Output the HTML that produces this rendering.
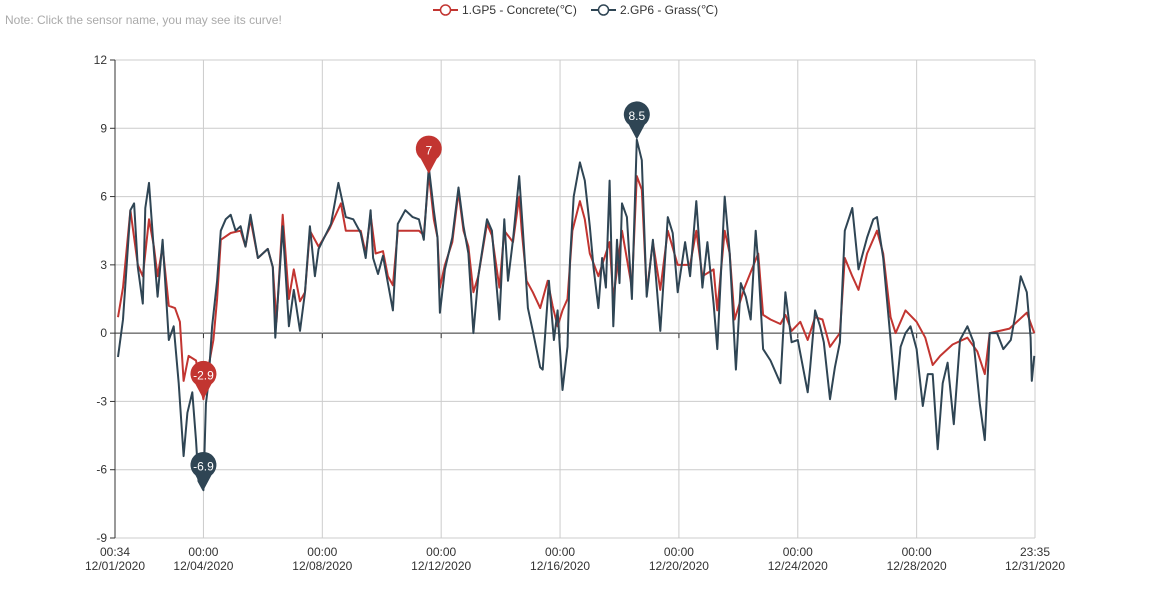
<!DOCTYPE html>
<html><head><meta charset="utf-8"><style>
body{margin:0;background:#fff;font-family:"Liberation Sans",sans-serif}
svg{display:block}
</style></head><body>
<svg id="chart" width="1150" height="600" xmlns="http://www.w3.org/2000/svg" font-family="Liberation Sans, sans-serif">
<text x="5" y="24" font-size="12" fill="#aaa">Note: Click the sensor name, you may see its curve!</text>
<g>
<g><line x1="433" y1="10" x2="458" y2="10" stroke="#c23531" stroke-width="2"/><circle cx="445.5" cy="10" r="5" fill="#fff" stroke="#c23531" stroke-width="1.5"/><text x="462" y="14" font-size="12" fill="#333">1.GP5 - Concrete(℃)</text></g>
<g><line x1="591" y1="10" x2="616" y2="10" stroke="#2f4554" stroke-width="2"/><circle cx="603.5" cy="10" r="5" fill="#fff" stroke="#2f4554" stroke-width="1.5"/><text x="620" y="14" font-size="12" fill="#333">2.GP6 - Grass(℃)</text></g>
</g>
<g id="grid"></g><g id="series"></g><g id="marks"></g>
</svg>
<script>
const yTicks=[12,9,6,3,0,-3,-6,-9];
const xTickHours=[72,168,264,360,456,552,648];
const xTickLabels=["12/04/2020","12/08/2020","12/12/2020","12/16/2020","12/20/2020","12/24/2020","12/28/2020"];
const tMin=0.567, tMax=743.583;
const concreteHours=[3,7,13,19,23,28,32,35,39,44,49,53,56,60,66,72,76,80,83,86,94,102,106,110,116,124,128,131,136,141,145,150,154,158,165,174,183,187,199,203,207,211,217,221,225,229,235,246,250,254,258,261,263,267,273,278,282,286,290,294,301,305,311,315,322,327,329,333,338,344,350,354,358,362,366,370,376,380,384,391,394,400,403,410,418,422,426,430,435,441,447,455,465,470,475,484,487,493,497,501,509,520,524,530,538,542,547,554,560,566,572,578,586,590,596,601,608,616,621,627,631,639,648,655,661,667,677,689,697,703,707,723,731,737,743];
const concreteValues=[0.7,2.0,5.4,3.0,2.5,5.0,3.8,2.5,3.8,1.2,1.1,0.5,-2.1,-1.0,-1.2,-2.9,-1.5,-0.3,1.5,4.1,4.4,4.5,3.8,5.0,3.3,3.7,2.9,0.5,5.2,1.5,2.8,1.4,1.8,4.5,3.8,4.6,5.7,4.5,4.5,3.5,5.2,3.5,3.6,2.5,2.1,4.5,4.5,4.5,4.3,7.0,5.0,4.2,2.0,3.0,4.0,6.2,4.5,3.8,1.8,2.5,4.8,4.3,2.0,4.5,4.0,6.0,4.5,2.3,1.8,1.1,2.3,1.2,0.3,1.0,1.5,4.5,5.8,5.0,3.5,2.5,3.0,4.0,1.5,4.5,2.0,6.9,6.3,1.8,4.0,1.9,4.5,3.0,3.0,4.5,2.5,2.8,1.0,4.5,3.5,0.6,2.0,3.5,0.8,0.6,0.4,0.8,0.1,0.5,-0.3,0.7,0.6,-0.6,0,3.3,2.5,1.9,3.5,4.5,3.5,0.7,0,1.0,0.5,-0.2,-1.4,-1.0,-0.5,-0.2,-0.8,-1.8,0,0.2,0.6,0.9,0];
const grassHours=[3,7,13,16,19,23,25,28,32,35,39,44,48,52,56,59,63,66,68,72,74,76,79,83,86,90,94,98,102,106,110,116,124,128,130,136,141,145,150,154,158,162,165,175,181,187,193,199,203,207,209,213,217,221,225,229,235,241,246,250,254,258,261,263,267,273,278,282,286,290,294,301,305,311,315,318,322,327,330,334,338,344,346,351,355,358,362,366,368,371,376,380,384,387,391,394,397,400,403,406,408,410,414,418,422,426,430,435,441,447,451,455,461,465,470,475,479,484,487,493,497,502,506,510,514,518,520,524,530,538,542,547,552,560,562,566,570,573,578,582,586,590,596,601,608,613,616,621,627,631,635,639,643,648,653,657,661,665,669,673,678,683,689,694,699,703,707,713,718,724,728,732,737,740,741,743];
const grassValues=[-1.05,0.6,5.4,5.7,2.9,1.3,5.5,6.6,3.6,1.6,4.1,-0.3,0.3,-2.2,-5.4,-3.5,-2.6,-4.7,-6.5,-6.9,-3.1,-2.2,0.3,2.3,4.5,5.0,5.2,4.5,4.7,3.8,5.2,3.3,3.7,2.9,-0.2,4.7,0.3,1.9,0.1,1.8,4.7,2.5,3.7,4.8,6.6,5.1,5.0,4.4,3.3,5.4,3.3,2.6,3.4,2.2,1.0,4.8,5.4,5.1,5.0,4.1,7.3,5.4,4.2,0.9,2.8,4.2,6.4,4.7,3.5,0,2.5,5.0,4.5,0.6,5.0,2.3,4.1,6.9,4.5,1.1,0.1,-1.5,-1.6,2.3,-0.3,1.0,-2.5,-0.6,3.2,6.0,7.5,6.7,4.7,2.9,1.1,3.3,2.0,6.7,0.3,4.1,2.2,5.7,5.1,1.5,8.5,7.6,1.6,4.1,0.1,5.1,4.4,1.8,4.0,2.5,5.8,2.0,4.0,1.3,-0.7,6.0,3.5,-1.6,2.2,1.6,0.6,4.5,3.1,-0.7,-1.2,-2.2,1.8,-0.4,-0.3,-2.6,-1.5,1.0,0.3,-0.4,-2.9,-1.5,-0.4,4.5,5.5,2.8,4.2,5.0,5.1,3.3,-0.3,-2.9,-0.6,0,0.3,-0.7,-3.2,-1.8,-1.8,-5.1,-2.2,-1.3,-4.0,-0.3,0.3,-0.4,-3.1,-4.7,0,0,-0.7,-0.3,0.9,2.5,1.8,-0.2,-2.1,-1.0];
const L=115,R=1035,T=60,B=538;
const xS=h=>L+(h-tMin)/(tMax-tMin)*(R-L);
const yS=v=>T+(12-v)/21*(B-T);
const NS="http://www.w3.org/2000/svg";
function mk(tag,attrs,parent){const e=document.createElementNS(NS,tag);for(const k in attrs)e.setAttribute(k,attrs[k]);parent.appendChild(e);return e;}
const grid=document.getElementById('grid'),series=document.getElementById('series'),marks=document.getElementById('marks');
yTicks.forEach(v=>{
 const gl=mk('line',{x1:L,x2:R,y1:yS(v),y2:yS(v),stroke:v===0?'#333':'#ccc','stroke-width':1},grid);
 
 
 const t=mk('text',{x:L-8,y:yS(v)+4,'text-anchor':'end','font-size':12,fill:'#333'},grid);
 
 
 t.textContent=v;
});
xTickHours.forEach((h,i)=>{
 const gl=mk('line',{x1:xS(h),x2:xS(h),y1:T,y2:B,stroke:'#ccc'},grid);
 
 
 mk('line',{x1:xS(h),x2:xS(h),y1:yS(0),y2:yS(0)+5,stroke:'#333'},grid);
 const t=mk('text',{x:xS(h),y:B+18,'text-anchor':'middle','font-size':12,fill:'#333'},grid);
 
 
 t.innerHTML='<tspan x="'+xS(h)+'">00:00</tspan><tspan x="'+xS(h)+'" dy="14">'+xTickLabels[i]+'</tspan>';
});
[[tMin,'00:34','12/01/2020'],[tMax,'23:35','12/31/2020']].forEach(a=>{
 const t=mk('text',{x:xS(a[0]),y:B+18,'text-anchor':'middle','font-size':12,fill:'#333'},grid);
 
 
 t.innerHTML='<tspan x="'+xS(a[0])+'">'+a[1]+'</tspan><tspan x="'+xS(a[0])+'" dy="14">'+a[2]+'</tspan>';
});
const rl=mk('line',{x1:R,x2:R,y1:T,y2:B,stroke:'#ccc'},grid);
const ya=mk('line',{x1:L,x2:L,y1:T,y2:B,stroke:'#333'},grid);


yTicks.forEach(v=>mk('line',{x1:L-5,x2:L,y1:yS(v),y2:yS(v),stroke:'#333'},grid));
function drawSeries(hours,vals,color,name){
 const d=hours.map((h,i)=>(i?'L':'M')+xS(h).toFixed(1)+','+yS(vals[i]).toFixed(1)).join('');
 const p=mk('path',{d:d,fill:'none',stroke:color,'stroke-width':2,'stroke-linejoin':'round'},series);
 
 
}
function pin(h,v,color,label,name){
 const x=xS(h),y=yS(v),cy=y-24;
 const g=mk('g',{},marks);
 
 
 mk('path',{d:`M${x},${y} L${x-8},${cy+9} A13,13 0 1 1 ${x+8},${cy+9} Z`,fill:color},g);
 const t=mk('text',{x:x,y:cy+4.5,'text-anchor':'middle','font-size':12,fill:'#fff'},g);
 t.textContent=label;
}
function extremes(hours,vals,color,nm){
 let mx=0,mn=0;vals.forEach((v,i)=>{if(v>vals[mx])mx=i;if(v<vals[mn])mn=i;});
 pin(hours[mx],vals[mx],color,vals[mx],nm+'-max-marker');
 pin(hours[mn],vals[mn],color,vals[mn],nm+'-min-marker');
}
drawSeries(concreteHours,concreteValues,'#c23531','concrete-line');
drawSeries(grassHours,grassValues,'#2f4554','grass-line');
extremes(concreteHours,concreteValues,'#c23531','concrete');
extremes(grassHours,grassValues,'#2f4554','grass');
</script>
</body></html>
